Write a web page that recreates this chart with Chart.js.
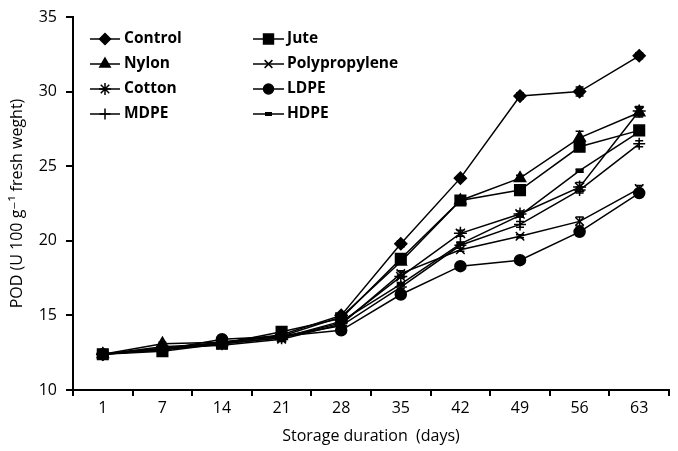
<!DOCTYPE html>
<html>
<head>
<meta charset="utf-8">
<script src="https://cdn.jsdelivr.net/npm/chart.js@4.4.1/dist/chart.umd.min.js"></script>
<style>
  html, body { margin: 0; padding: 0; background: #fff; }
  #wrap { width: 678px; height: 451px; }
</style>
</head>
<body>
<div id="wrap"><canvas id="podChart"></canvas></div>
<script>
const dias = ["1", "7", "14", "21", "28", "35", "42", "49", "56", "63"];
const yTicks = [10, 15, 20, 25, 30, 35];

const control       = [12.4, 12.7, 13.2, 13.7, 15.0, 19.8, 24.2, 29.7, 30.0, 32.4];
const jute          = [12.4, 12.6, 13.1, 13.9, 14.8, 18.8, 22.7, 23.4, 26.3, 27.4];
const nylon         = [12.4, 13.1, 13.2, 13.6, 14.9, 18.6, 22.7, 24.2, 26.9, 28.6];
const polipropileno = [12.4, 12.8, 13.0, 13.4, 14.4, 17.8, 19.4, 20.3, 21.3, 23.5];
const algodon       = [12.4, 12.7, 13.1, 13.5, 14.5, 17.6, 20.5, 21.8, 23.6, 28.7];
const ldpe          = [12.4, 12.7, 13.4, 13.6, 14.0, 16.4, 18.3, 18.7, 20.6, 23.2];
const mdpe          = [12.4, 12.8, 13.2, 13.6, 14.3, 16.9, 19.7, 21.1, 23.4, 26.5];
const hdpe          = [12.4, 12.9, 13.1, 13.5, 14.6, 17.1, 19.8, 21.7, 24.7, 27.3];

// error (+/-)
const errControl = [0.1, 0.1, 0.1, 0.1, 0.1, 0.2, 0.1, 0.2, 0.3, 0.2];
const errJute    = [0.1, 0.1, 0.1, 0.1, 0.1, 0.1, 0.1, 0.2, 0.3, 0.2];
const errNylon   = [0.1, 0.1, 0.1, 0.1, 0.2, 0.1, 0.3, 0.2, 0.45, 0.3];
const errPoli    = [0.1, 0.1, 0.1, 0.1, 0.1, 0.2, 0.1, 0.1, 0.3, 0.2];
const errAlgodon = [0.1, 0.1, 0.1, 0.1, 0.1, 0.1, 0.2, 0.2, 0.3, 0.3];
const errLdpe    = [0.1, 0.1, 0.1, 0.1, 0.1, 0.1, 0.1, 0.1, 0.1, 0.2];
const errMdpe    = [0.1, 0.1, 0.1, 0.1, 0.1, 0.1, 0.2, 0.2, 0.2, 0.2];
const errHdpe    = [0.1, 0.1, 0.1, 0.1, 0.1, 0.1, 0.1, 0.1, 0.1, 0.1];

const FONT = "'Open Sans', 'DejaVu Sans', sans-serif";

function serie(label, data, err, estilo, radio) {
  return {
    label: label, data: data, err: err,
    borderColor: "#000", backgroundColor: "#000", borderWidth: 1.5,
    pointStyle: estilo, pointRadius: radio, pointHoverRadius: radio,
    pointBackgroundColor: "#000", pointBorderColor: "#000",
    pointBorderWidth: estilo === "line" ? 4 : 1.5,
    tension: 0, fill: false
  };
}

const datasets = [
  serie("Control", control, errControl, "rectRot", 6),
  serie("Jute", jute, errJute, "rect", 7.5),
  serie("Nylon", nylon, errNylon, "triangle", 6.5),
  serie("Polypropylene", polipropileno, errPoli, "crossRot", 6),
  serie("Cotton", algodon, errAlgodon, "star", 6.5),
  serie("LDPE", ldpe, errLdpe, "circle", 5.5),
  serie("MDPE", mdpe, errMdpe, "cross", 6),
  serie("HDPE", hdpe, errHdpe, "line", 4)
];

// barras de error
const errorBars = {
  id: "errorBars",
  beforeDatasetsDraw(chart) {
    const { ctx, scales: { x, y } } = chart;
    ctx.save();
    ctx.strokeStyle = "#000";
    ctx.lineWidth = 1.5;
    chart.data.datasets.forEach(ds => {
      ds.data.forEach((v, j) => {
        const e = ds.err[j];
        if (!e) return;
        const px = x.getPixelForValue(j);
        const top = y.getPixelForValue(v + e);
        const bot = y.getPixelForValue(v - e);
        ctx.beginPath();
        ctx.moveTo(px, top); ctx.lineTo(px, bot);
        ctx.moveTo(px - 4, top); ctx.lineTo(px + 4, top);
        ctx.moveTo(px - 4, bot); ctx.lineTo(px + 4, bot);
        ctx.stroke();
      });
    });
    ctx.restore();
  }
};

// leyenda dentro del grafico, 2 columnas
const leyenda = {
  id: "leyenda",
  afterDraw(chart) {
    const ctx = chart.ctx;
    const cols = [{ x0: 90, x1: 120, tx: 124 }, { x0: 253, x1: 284, tx: 287 }];
    ctx.save();
    chart.data.datasets.forEach((ds, i) => {
      const c = cols[i % 2];
      const yy = 39 + 25 * Math.floor(i / 2);
      ctx.strokeStyle = "#000";
      ctx.fillStyle = "#000";
      ctx.lineWidth = 1.5;
      ctx.beginPath();
      ctx.moveTo(c.x0, yy); ctx.lineTo(c.x1, yy);
      ctx.stroke();
      ctx.lineWidth = ds.pointBorderWidth;
      Chart.helpers.drawPoint(ctx, {
        pointStyle: ds.pointStyle, radius: ds.pointRadius - 0.5,
        rotation: 0, borderWidth: ds.pointBorderWidth
      }, (c.x0 + c.x1) / 2, yy);
      ctx.font = "bold 15.5px " + FONT;
      ctx.textBaseline = "middle";
      ctx.textAlign = "left";
      ctx.fillText(ds.label, c.tx, yy);
    });
    ctx.restore();
  }
};

const ctx = document.getElementById("podChart").getContext("2d");

const podChart = new Chart(ctx, {
  type: "line",
  data: { labels: dias, datasets: datasets },
  plugins: [errorBars, leyenda],
  options: {
    responsive: true,
    maintainAspectRatio: false,
    animation: false,
    layout: { padding: { top: 9, right: 5, left: 0, bottom: 0 } },
    plugins: { legend: { display: false }, tooltip: { enabled: false } },
    scales: {
      x: {
        offset: true,
        grid: { display: true, offset: true, drawOnChartArea: false, drawTicks: true, tickLength: 6, color: "#000", lineWidth: 2 },
        border: { display: true, color: "#000", width: 2 },
        ticks: { color: "#000", padding: 3, font: { family: FONT, size: 16 } },
        title: { display: true, text: "Storage duration  (days)", color: "#000", padding: { top: 0, bottom: 5 }, font: { family: FONT, size: 16 } },
        afterFit: s => { s.height = 61; }
      },
      y: {
        min: 10, max: 35,
        afterBuildTicks: s => { s.ticks = yTicks.map(v => ({ value: v })); },
        grid: { display: true, drawOnChartArea: false, drawTicks: true, tickLength: 7, color: "#000", lineWidth: 2 },
        border: { display: true, color: "#000", width: 2 },
        ticks: { color: "#000", padding: 9, font: { family: FONT, size: 16, lineHeight: 1 } },
        title: { display: true, text: "POD (U 100 g\u207B\u00B9 fresh weght)", color: "#000", padding: { top: 8, bottom: 0 }, font: { family: FONT, size: 16 } },
        afterFit: s => { s.width = 73; }
      }
    }
  }
});
</script>
</body>
</html>
